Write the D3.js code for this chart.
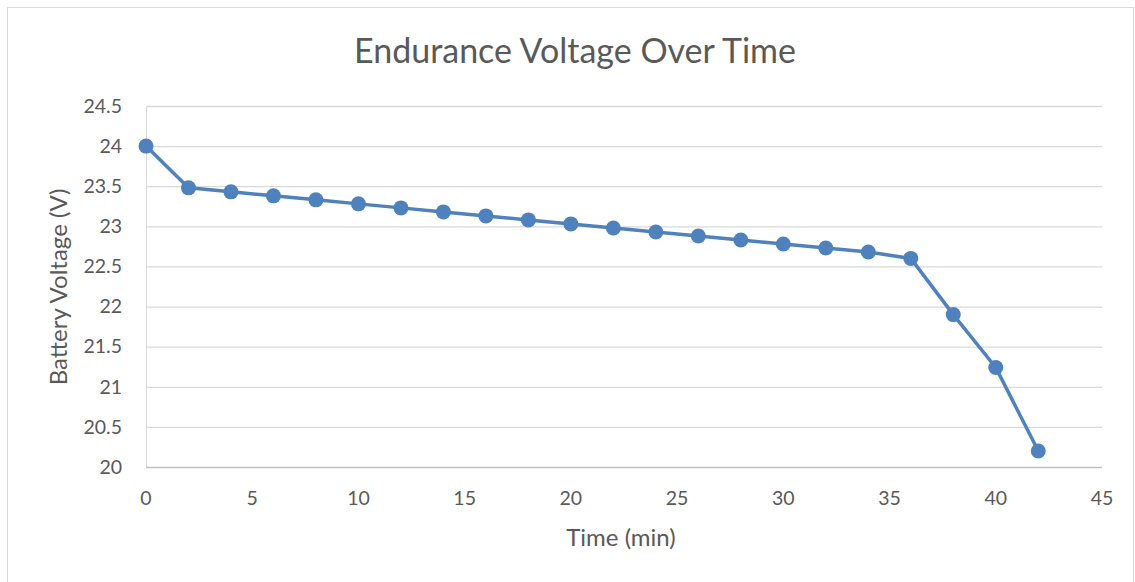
<!DOCTYPE html>
<html>
<head>
<meta charset="utf-8">
<script src="https://cdn.jsdelivr.net/npm/d3@7"></script>
<style>
  body { margin: 0; background: #fff; }
  text { font-family: Lato, "Open Sans", sans-serif; fill: #595959; }
</style>
</head>
<body>
<svg id="chart" width="1135" height="582"></svg>
<script>
const times = [0, 2, 4, 6, 8, 10, 12, 14, 16, 18, 20, 22, 24, 26, 28, 30, 32, 34, 36, 38, 40, 42];
const voltages = [24, 23.48, 23.43, 23.38, 23.33, 23.28, 23.23, 23.18, 23.13, 23.08, 23.03,
  22.98, 22.93, 22.88, 22.83, 22.78, 22.73, 22.68, 22.6, 21.9, 21.24, 20.2];
const xTicks = [0, 5, 10, 15, 20, 25, 30, 35, 40, 45];
const yTicks = [20, 20.5, 21, 21.5, 22, 22.5, 23, 23.5, 24, 24.5];

const svg = d3.select('#chart');
const plot = {left: 146, right: 1102, top: 106, bottom: 467};

// outer chart border
svg.append('rect')
  .attr('x', 7.5).attr('y', 7.5)
  .attr('width', 1126).attr('height', 580)
  .attr('fill', 'none')
  .attr('stroke', '#d9d9d9');

const x = d3.scaleLinear().domain([0, 45]).range([plot.left, plot.right]);
const y = d3.scaleLinear().domain([20, 24.5]).range([plot.bottom, plot.top]);

// gridlines
svg.append('g')
  .selectAll('line')
  .data(yTicks.filter((d) => d > 20))
  .enter()
  .append('line')
  .attr('x1', plot.left).attr('x2', plot.right)
  .attr('y1', (d) => y(d) + 0.5).attr('y2', (d) => y(d) + 0.5)
  .attr('stroke', '#d9d9d9')
  .attr('stroke-width', 1.3);

// axis lines
svg.append('line')
  .attr('x1', plot.left + 0.5).attr('x2', plot.left + 0.5)
  .attr('y1', plot.top).attr('y2', plot.bottom)
  .attr('stroke', '#d9d9d9');
svg.append('line')
  .attr('x1', plot.left).attr('x2', plot.right)
  .attr('y1', plot.bottom + 0.5).attr('y2', plot.bottom + 0.5)
  .attr('stroke', '#bfbfbf')
  .attr('stroke-width', 1.3);

// tick labels
svg.append('g')
  .selectAll('text')
  .data(yTicks)
  .enter()
  .append('text')
  .attr('x', 122)
  .attr('y', (d) => y(d))
  .attr('dy', '0.35em')
  .attr('text-anchor', 'end')
  .attr('font-size', 19.5)
  .text((d) => d);

svg.append('g')
  .selectAll('text')
  .data(xTicks)
  .enter()
  .append('text')
  .attr('x', (d) => x(d))
  .attr('y', 505)
  .attr('text-anchor', 'middle')
  .attr('font-size', 19.5)
  .text((d) => d);

// titles
svg.append('text')
  .attr('x', 575).attr('y', 63)
  .attr('text-anchor', 'middle')
  .attr('font-size', 34)
  .text('Endurance Voltage Over Time');

svg.append('text')
  .attr('x', 621).attr('y', 546)
  .attr('text-anchor', 'middle')
  .attr('font-size', 24)
  .text('Time (min)');

svg.append('text')
  .attr('transform', 'translate(67,287) rotate(-90)')
  .attr('text-anchor', 'middle')
  .attr('font-size', 24)
  .text('Battery Voltage (V)');

// series
const points = times.map((t, i) => ({t, v: voltages[i]}));
const line = d3.line().x((d) => x(d.t)).y((d) => y(d.v));

svg.append('path')
  .datum(points)
  .attr('d', line)
  .attr('fill', 'none')
  .attr('stroke', '#4f81bd')
  .attr('stroke-width', 3.5)
  .attr('stroke-linejoin', 'round');

svg.append('g')
  .selectAll('circle')
  .data(points)
  .enter()
  .append('circle')
  .attr('cx', (d) => x(d.t))
  .attr('cy', (d) => y(d.v))
  .attr('r', 7.5)
  .attr('fill', '#4f81bd');
</script>
</body>
</html>
